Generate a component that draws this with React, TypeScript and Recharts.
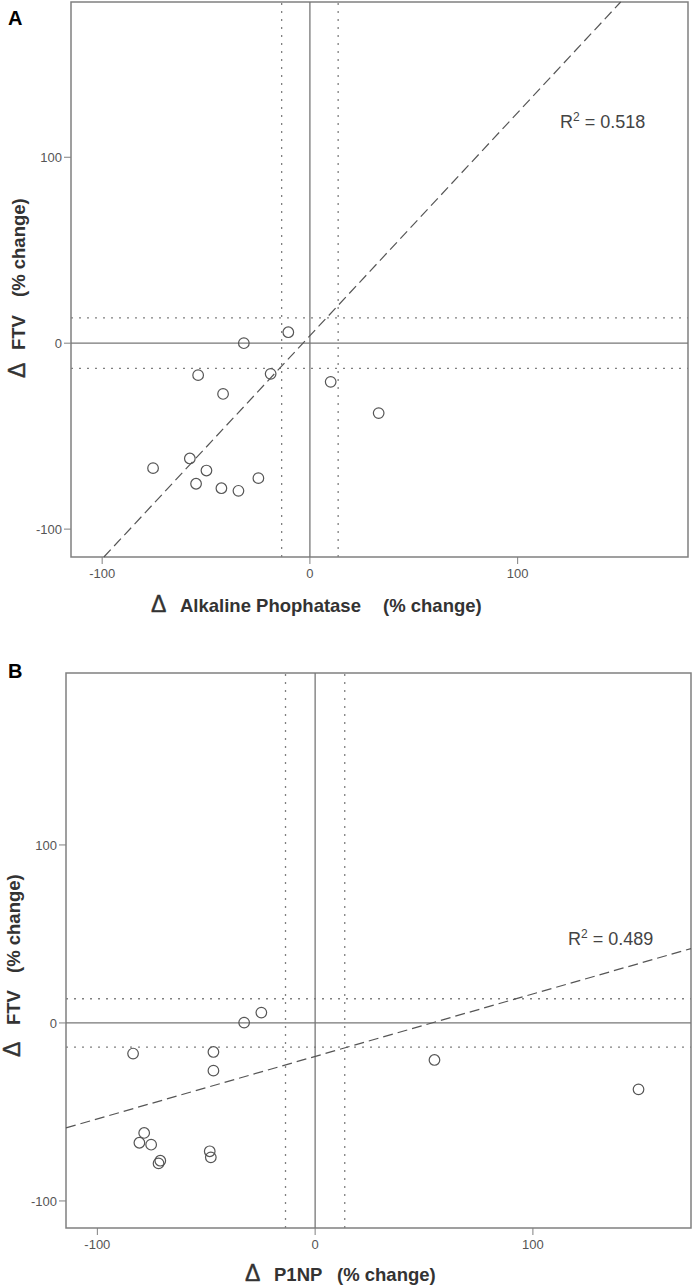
import React from 'react';
import {
  ScatterChart,
  Scatter,
  XAxis,
  YAxis,
  ReferenceLine,
  ReferenceArea,
} from 'recharts';

// Panel A: change in alkaline phosphatase vs change in FTV (% change)
const alpChange = [-75.5, -57.8, -49.8, -54.8, -42.6, -34.4, -24.8, -53.8, -41.8, -31.8, -18.9, -10.4, 10.0, 33.1];
const ftvChangeA = [-67.2, -62.0, -68.5, -75.6, -78.0, -79.4, -72.6, -17.2, -27.3, 0, -16.5, 5.9, -20.8, -37.6];

// Panel B: change in P1NP vs change in FTV (% change)
const p1npChange = [-83.6, -46.7, -46.7, -32.6, -24.7, -78.5, -80.7, -75.3, -71.1, -71.9, -48.4, -47.9, 54.8, 148.5];
const ftvChangeB = [-17.2, -16.3, -26.8, 0.2, 5.8, -61.8, -67.3, -68.4, -77.4, -78.9, -72.1, -75.5, -20.8, -37.3];

const ticks = [-100, 0, 100];
const band = 13.6; // dotted limits either side of zero

// least squares lines
const fitA = { slope: 1.2, intercept: 4, r2: '0.518' };
const fitB = { slope: 0.351, intercept: -18.8, r2: '0.489' };

const domainA = { x: [-115, 182], y: [-115, 183.5] };
const domainB = { x: [-114.4, 172.6], y: [-115.2, 196.6] };

const FONT = '"Liberation Sans", Arial, sans-serif';
const GRAY = '#808080';

function toPoints(xs: number[], ys: number[]) {
  return xs.map((x, i) => ({ x, y: ys[i] }));
}

function fitSegment(fit: { slope: number; intercept: number }, d: { x: number[]; y: number[] }) {
  const { slope: m, intercept: b } = fit;
  const x1 = Math.max(d.x[0], (d.y[0] - b) / m);
  const x2 = Math.min(d.x[1], (d.y[1] - b) / m);
  return [
    { x: x1, y: m * x1 + b },
    { x: x2, y: m * x2 + b },
  ];
}

const OpenCircle = (props: any) => (
  <circle cx={props.cx} cy={props.cy} r={5.3} fill="none" stroke="#555" strokeWidth={1.2} />
);

const tickStyle = { fontSize: 13, fill: '#555', fontFamily: FONT };
const titleStyle = { fontSize: 18.5, fontWeight: 700, fill: '#333', fontFamily: FONT };
const deltaStyle = { fontSize: 23, fill: '#333', fontFamily: FONT, stroke: '#333', strokeWidth: 0.4 };

interface PanelProps {
  letter: string;
  letterY: number;
  xs: number[];
  ys: number[];
  domain: { x: number[]; y: number[] };
  fit: { slope: number; intercept: number; r2: string };
  width: number;
  height: number;
  margin: { top: number; right: number; left: number; bottom: number };
  r2Pos: { x: number; y: number };
  xTitle: { delta: number; parts: { text: string; x: number }[]; y: number };
  yTitle: { x: number; delta: number; parts: { text: string; y: number }[] };
}

function Panel(p: PanelProps) {
  const data = toPoints(p.xs, p.ys);
  const seg = fitSegment(p.fit, p.domain);

  const annotations = () => (
    <g>
      <text x={8} y={p.letterY} style={{ fontSize: 20, fontWeight: 700, fill: '#000', fontFamily: FONT }}>
        {p.letter}
      </text>
      <text x={p.xTitle.delta} y={p.xTitle.y} style={deltaStyle}>Δ</text>
      {p.xTitle.parts.map((t) => (
        <text key={t.text} x={t.x} y={p.xTitle.y} style={titleStyle}>
          {t.text}
        </text>
      ))}
      <text transform={`translate(${p.yTitle.x},${p.yTitle.delta}) rotate(-90)`} style={deltaStyle}>Δ</text>
      {p.yTitle.parts.map((t) => (
        <text key={t.text} transform={`translate(${p.yTitle.x},${t.y}) rotate(-90)`} style={titleStyle}>
          {t.text}
        </text>
      ))}
      <text x={p.r2Pos.x} y={p.r2Pos.y} style={{ fontSize: 18, fill: '#444', fontFamily: FONT }}>
        R<tspan dy={-7} fontSize={12}>2</tspan>
        <tspan dy={7}> = {p.fit.r2}</tspan>
      </text>
    </g>
  );

  return (
    <ScatterChart width={p.width} height={p.height} margin={p.margin}>
      <XAxis
        type="number"
        dataKey="x"
        domain={p.domain.x}
        ticks={ticks}
        allowDataOverflow
        axisLine={false}
        tickLine={{ stroke: GRAY }}
        tickSize={7}
        tickMargin={5}
        tick={tickStyle}
        height={35}
        label={{ content: annotations }}
      />
      <YAxis
        type="number"
        dataKey="y"
        domain={p.domain.y}
        ticks={ticks}
        allowDataOverflow
        axisLine={false}
        tickLine={{ stroke: GRAY }}
        tickSize={7}
        tickMargin={2}
        tick={tickStyle}
        width={45}
      />
      <ReferenceArea
        x1={p.domain.x[0]}
        x2={p.domain.x[1]}
        y1={p.domain.y[0]}
        y2={p.domain.y[1]}
        fill="none"
        fillOpacity={0}
        stroke={GRAY}
        strokeWidth={1.5}
        ifOverflow="visible"
      />
      <ReferenceLine x={-band} stroke={GRAY} strokeDasharray="2 6" strokeWidth={1.3} />
      <ReferenceLine x={band} stroke={GRAY} strokeDasharray="2 6" strokeWidth={1.3} />
      <ReferenceLine y={band} stroke={GRAY} strokeDasharray="2 6" strokeWidth={1.3} />
      <ReferenceLine y={-band} stroke={GRAY} strokeDasharray="2 6" strokeWidth={1.3} />
      <ReferenceLine x={0} stroke="#777" strokeWidth={1.3} />
      <ReferenceLine y={0} stroke="#777" strokeWidth={1.3} />
      <ReferenceLine segment={seg} stroke="#555" strokeDasharray="10 5" strokeWidth={1.2} ifOverflow="visible" />
      <Scatter data={data} shape={OpenCircle} isAnimationActive={false} />
    </ScatterChart>
  );
}

export default function App() {
  return (
    <div style={{ position: 'absolute', left: 0, top: 0, width: 694, height: 1286, background: '#fff' }}>
      <div style={{ position: 'absolute', left: 0, top: 0 }}>
        <Panel
          letter="A"
          letterY={25}
          xs={alpChange}
          ys={ftvChangeA}
          domain={domainA}
          fit={fitA}
          width={694}
          height={640}
          margin={{ top: 2, right: 6, left: 26, bottom: 48 }}
          r2Pos={{ x: 560, y: 128 }}
          xTitle={{
            delta: 151,
            y: 612,
            parts: [
              { text: 'Alkaline Phophatase', x: 180 },
              { text: '(% change)', x: 383 },
            ],
          }}
          yTitle={{
            x: 25,
            delta: 378,
            parts: [
              { text: 'FTV', y: 350 },
              { text: '(% change)', y: 297 },
            ],
          }}
        />
      </div>
      <div style={{ position: 'absolute', left: 0, top: 640 }}>
        <Panel
          letter="B"
          letterY={38}
          xs={p1npChange}
          ys={ftvChangeB}
          domain={domainB}
          fit={fitB}
          width={694}
          height={646}
          margin={{ top: 33, right: 3, left: 21, bottom: 23 }}
          r2Pos={{ x: 568, y: 305 }}
          xTitle={{
            delta: 245,
            y: 641,
            parts: [
              { text: 'P1NP', x: 274 },
              { text: '(% change)', x: 337 },
            ],
          }}
          yTitle={{
            x: 20,
            delta: 417,
            parts: [
              { text: 'FTV', y: 385 },
              { text: '(% change)', y: 333 },
            ],
          }}
        />
      </div>
    </div>
  );
}
